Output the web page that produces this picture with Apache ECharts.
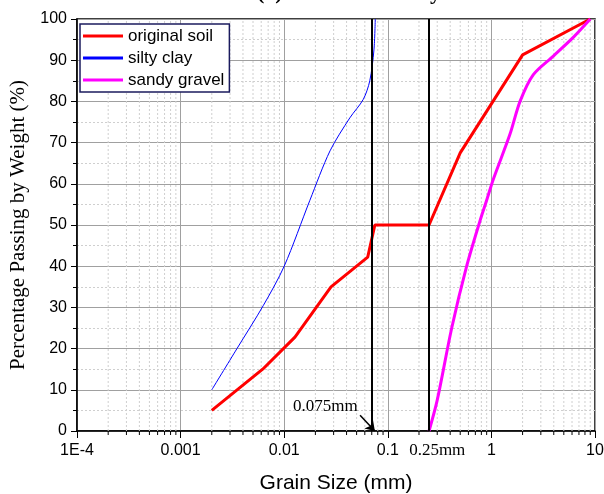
<!DOCTYPE html>
<html>
<head>
<meta charset="utf-8">
<script src="https://cdn.jsdelivr.net/npm/echarts@6/dist/echarts.min.js"></script>
<style>
  html, body { margin: 0; padding: 0; background: #fff; overflow: hidden; }
  #main { width: 604px; height: 494px; }
</style>
</head>
<body>
<div id="main"></div>
<script>
// tick labels of the log axis, one per decade
const xTickLabels = ['1E-4', '0.001', '0.01', '0.1', '1', '10']
const decades = [1e-4, 1e-3, 1e-2, 1e-1, 1]
const minorSteps = [2, 3, 4, 5, 6, 7, 8, 9]

// [grain size (mm), percent passing]
const originalSoil = [
  [0.002, 5], [0.0062, 15], [0.0127, 22.8], [0.0283, 35], [0.064, 42.2],
  [0.075, 50], [0.25, 50], [0.5, 67.5], [2, 91.3], [9, 100]
]
const siltyClay = [
  [0.002, 10], [0.0035, 20], [0.0063, 30.5], [0.01, 40], [0.0177, 56],
  [0.0277, 68], [0.043, 76], [0.058, 80.5], [0.067, 85], [0.0735, 92.5], [0.0757, 100]
]
const sandyGravel = [
  [0.25, 0], [0.3, 7.5], [0.414, 25], [0.577, 40], [0.776, 51], [0.9, 56],
  [1.04, 61], [1.51, 72], [1.89, 80], [2.54, 86.5], [3.96, 91], [6.2, 95.6], [9, 100]
]
// boundary sizes marked by vertical lines
const boundaries = [0.075, 0.25]

const minorX = []
decades.forEach(d => minorSteps.forEach(m => minorX.push(+(d * m).toPrecision(3))))

const chart = echarts.init(document.getElementById('main'))

// minor log gridlines + minor ticks on the bottom axis
function renderMinor(params, api) {
  const v = api.value(0)
  const b = api.coord([v, 0])
  const t = api.coord([v, 100])
  return {
    type: 'group',
    children: [
      { type: 'line', shape: { x1: b[0], y1: b[1], x2: t[0], y2: t[1] },
        style: { stroke: '#cfcfcf', lineWidth: 1, lineDash: [2, 2] } },
      { type: 'line', shape: { x1: b[0], y1: b[1], x2: b[0], y2: b[1] + 4 },
        style: { stroke: '#000', lineWidth: 1 } }
    ]
  }
}

const option = {
  animation: false,
  grid: {
    left: 77, right: 9, top: 19, bottom: 63,
    outerBoundsMode: 'none',
    containLabel: false,
    show: true, borderColor: '#000', borderWidth: 1.5
  },
  legend: {
    data: ['original soil', 'silty clay', 'sandy gravel'],
    orient: 'vertical',
    left: 80,
    top: 24,
    padding: [1, 5, 1, 3],
    itemGap: 0,
    itemWidth: 40,
    itemHeight: 3,
    icon: 'rect',
    textStyle: { fontFamily: 'Liberation Sans', fontSize: 17, color: '#000', lineHeight: 22 },
    backgroundColor: '#fff',
    borderColor: '#1b1b5e',
    borderWidth: 1.5
  },
  xAxis: {
    type: 'log',
    logBase: 10,
    min: 1e-4,
    max: 10,
    name: 'Grain Size (mm)',
    nameLocation: 'middle',
    nameGap: 42,
    nameTextStyle: { fontFamily: 'Liberation Sans', fontSize: 21, color: '#000' },
    axisLine: { onZero: false, lineStyle: { color: '#000', width: 1.5 } },
    axisTick: { length: 7, lineStyle: { color: '#000' } },
    axisLabel: {
      formatter: v => xTickLabels[Math.round(Math.log10(v)) + 4],
      fontFamily: 'Liberation Sans', fontSize: 16, color: '#000', margin: 12,
      showMinLabel: true, showMaxLabel: true
    },
    splitLine: { show: true, lineStyle: { color: '#a0a0a0' } }
  },
  yAxis: {
    type: 'value',
    min: 0,
    max: 100,
    interval: 10,
    name: 'Percentage Passing by Weight (%)',
    nameLocation: 'middle',
    nameGap: 47,
    nameTextStyle: { fontFamily: 'Liberation Serif', fontSize: 21, color: '#000' },
    axisLine: { show: true, onZero: false, lineStyle: { color: '#000', width: 1.5 } },
    axisTick: { show: true, length: 6, lineStyle: { color: '#000' } },
    minorTick: { show: true, splitNumber: 2, length: 4, lineStyle: { color: '#000' } },
    axisLabel: { fontFamily: 'Liberation Sans', fontSize: 16, color: '#000', margin: 10 },
    splitLine: { lineStyle: { color: '#a0a0a0' } },
    minorSplitLine: { show: true, lineStyle: { color: '#cfcfcf', type: [2, 2] } }
  },
  series: [
    {
      type: 'custom',
      name: 'minor',
      silent: true,
      clip: false,
      z: 1,
      data: minorX.map(v => [v, 0]),
      encode: { x: 0, y: 1 },
      renderItem: renderMinor
    },
    {
      name: 'original soil',
      type: 'line',
      data: originalSoil,
      showSymbol: false,
      z: 3,
      lineStyle: { color: '#ff0000', width: 3 },
      itemStyle: { color: '#ff0000' },
      markLine: {
        silent: true,
        symbol: 'none',
        label: { show: false },
        data: boundaries.map(b => ({ xAxis: b, lineStyle: { color: '#000', width: 2, type: 'solid' } })).concat([
          [
            { coord: [0.054, 3.8], symbol: 'none', lineStyle: { color: '#000', width: 1.5, type: 'solid' } },
            { coord: [0.075, 0], symbol: 'arrow', symbolSize: 9 }
          ]
        ])
      },
      markPoint: {
        silent: true,
        symbol: 'rect',
        symbolSize: 1,
        itemStyle: { color: 'rgba(0,0,0,0)' },
        label: {
          show: true,
          position: 'inside',
          formatter: p => p.name,
          fontFamily: 'Liberation Serif', fontSize: 17, color: '#000'
        },
        data: [{ name: '0.075mm', coord: [0.025, 6] }]
      }
    },
    {
      name: 'silty clay',
      type: 'line',
      data: siltyClay,
      showSymbol: false,
      smooth: 0.3,
      z: 3,
      lineStyle: { color: '#0000ff', width: 1 },
      itemStyle: { color: '#0000ff' }
    },
    {
      name: 'sandy gravel',
      type: 'line',
      data: sandyGravel,
      showSymbol: false,
      smooth: 0.3,
      z: 3,
      lineStyle: { color: '#ff00ff', width: 3 },
      itemStyle: { color: '#ff00ff' }
    }
  ]
}

chart.setOption(option)

// labels that sit outside the plot area
const p25 = chart.convertToPixel({ gridIndex: 0 }, [0.30, 0])
chart.setOption({
  graphic: [
    {
      type: 'text', left: 257, top: -18,
      style: { text: '(a) Grain size analysis', font: 'bold 22px "Liberation Serif"', fill: '#000' }
    },
    {
      type: 'text', x: p25[0], y: p25[1] + 20,
      style: { text: '0.25mm', font: '17px "Liberation Serif"', fill: '#000', align: 'center', verticalAlign: 'middle' }
    }
  ]
})
</script>
</body>
</html>
